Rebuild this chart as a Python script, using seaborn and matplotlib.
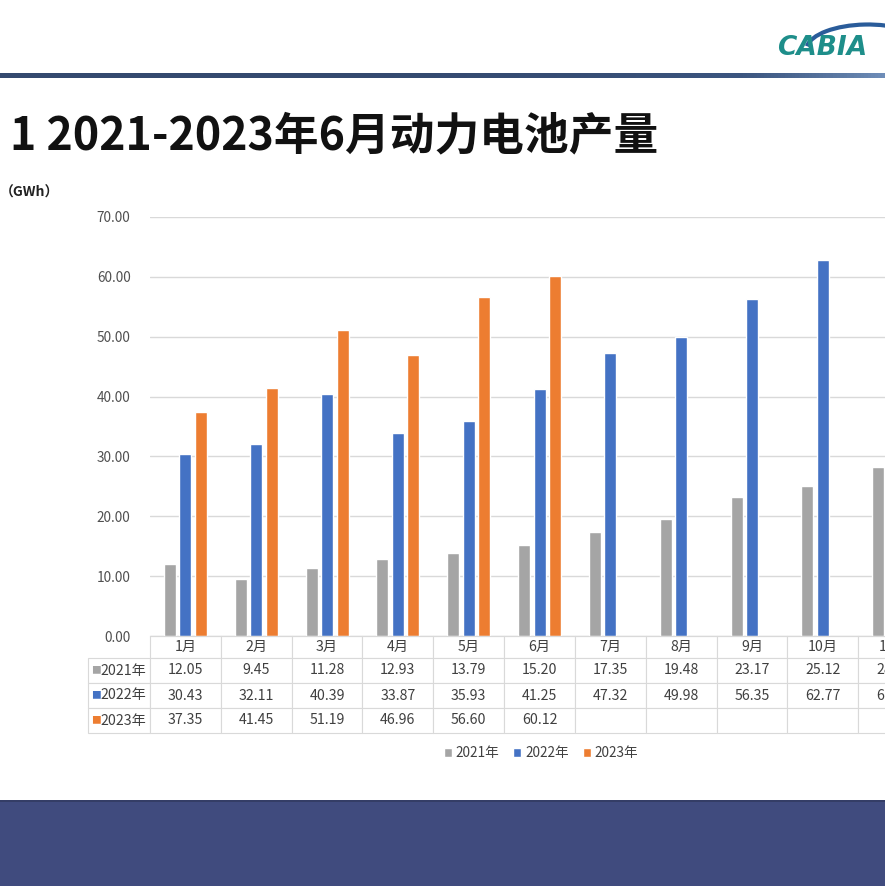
import numpy as np
import pandas as pd
import seaborn as sns
import matplotlib.pyplot as plt
from matplotlib.patches import Rectangle, Arc
from matplotlib.colors import LinearSegmentedColormap

# 数据 (GWh)
months = ['1月', '2月', '3月', '4月', '5月', '6月', '7月', '8月', '9月', '10月', '11月', '12月']
years = ['2021年', '2022年', '2023年']
prod_2021 = [12.05, 9.45, 11.28, 12.93, 13.79, 15.20, 17.35, 19.48, 23.17, 25.12, 28.18, 31.70]
prod_2022 = [30.43, 32.11, 40.39, 33.87, 35.93, 41.25, 47.32, 49.98, 56.35, 62.77, 61.43, 54.07]
prod_2023 = [37.35, 41.45, 51.19, 46.96, 56.60, 60.12, None, None, None, None, None, None]
yticks = [0, 10, 20, 30, 40, 50, 60, 70]

colors = ['#A5A5A5', '#4472C4', '#ED7D31']
font = ['Noto Sans CJK SC', 'DejaVu Sans']

sns.set_style('white')
plt.rcParams['font.family'] = font

df = pd.DataFrame({'month': months * 3,
                   'year': np.repeat(years, len(months)),
                   'value': prod_2021 + prod_2022 + prod_2023})
df['value'] = df['value'].astype(float)

W, H = 885, 886
fig = plt.figure(figsize=(W / 100, H / 100), dpi=100)
fig.patch.set_facecolor('white')

# 图表区 (右侧超出画面，模拟截图裁切)
ax = fig.add_axes([150 / W, 1 - 636 / H, 850 / W, 419 / H])
sns.barplot(data=df.dropna(), x='month', y='value', hue='year',
            order=months, hue_order=years, palette=colors,
            width=0.656, gap=0.23, saturation=1, ax=ax, legend=True)

ax.set_ylim(0, 70)
ax.set_xlim(-0.5, len(months) - 0.5)
ax.set_yticks(yticks)
ax.set_yticklabels([f'{v:.2f}' for v in yticks], fontsize=9.8, color='#505050')
ax.tick_params(axis='y', length=0, pad=14)
ax.set_xticks([])
ax.set_xlabel('')
ax.set_ylabel('')
ax.grid(axis='y', color='#D9D9D9', linewidth=1)
ax.set_axisbelow(True)
for s in ['top', 'right', 'left']:
    ax.spines[s].set_visible(False)
ax.spines['bottom'].set_color('#D9D9D9')

# 数据表
def fmt(v):
    return '' if v is None else f'{v:.2f}'

cell_text = [[''] + months]
for y, vals in zip(years, [prod_2021, prod_2022, prod_2023]):
    cell_text.append([''] + [fmt(v) for v in vals])

lw = 62 / 850
th = 97 / 419
tbl = ax.table(cellText=cell_text, cellLoc='center',
               bbox=[-lw, -th, 1 + lw, th])
tbl.auto_set_font_size(False)
for (r, c), cell in tbl.get_celld().items():
    cell.set_edgecolor('#D9D9D9')
    cell.set_linewidth(0.8)
    cell.set_width(62 if c == 0 else 70.9)
    cell.set_height(22 if r == 0 else 25)
    cell.get_text().set_fontsize(10.2)
    cell.get_text().set_color('#404040')
    if r == 0 and c == 0:
        cell.visible_edges = ''
    if c == 0 and r > 0:
        ax.annotate('■', xy=(0.05, 0.5), xycoords=cell, color=colors[r - 1],
                    fontsize=7, va='center', ha='left', annotation_clip=False)
        ax.annotate(years[r - 1], xy=(0.2, 0.5), xycoords=cell, color='#404040',
                    fontsize=10.2, va='center', ha='left', annotation_clip=False)

# 图例
handles, labels = ax.get_legend_handles_labels()
ax.legend(handles, labels, loc='center', bbox_to_anchor=(541 / W, 1 - 753 / H),
          bbox_transform=fig.transFigure, ncol=3, frameon=False,
          handlelength=0.6, handleheight=0.6, handletextpad=0.3,
          columnspacing=1.0, fontsize=9.8, labelcolor='#404040')

# 标题与单位
fig.text(10 / W, 1 - 136 / H, '1 2021-2023年6月动力电池产量', fontsize=32.2,
         fontweight='bold', va='center', ha='left', color='#111111')
fig.text(0, 1 - 193 / H, '（GWh）', fontsize=10, fontweight='bold',
         va='center', ha='left', color='#222222')

# 顶部渐变线
band = fig.add_axes([0, 1 - 78 / H, 1, 5 / H])
cmap = LinearSegmentedColormap.from_list('line', ['#34496F', '#3C5680', '#6E8DB8'])
band.imshow(np.linspace(0, 1, 256)[None, :] ** 4, aspect='auto', cmap=cmap)
band.axis('off')

# 标志
fig.text(777 / W, 1 - 48 / H, 'CABIA', fontsize=19, fontstyle='italic',
         fontweight='bold', color='#1E8E8A', va='center', ha='left',
         family=['DejaVu Sans'])
logo = fig.add_axes([790 / W, 1 - 50 / H, 130 / W, 30 / H])
logo.add_patch(Arc((0.6, 0.0), 0.95, 1.7, theta1=25, theta2=165,
                   color='#2A5C9A', lw=3))
logo.set_xlim(0, 1)
logo.set_ylim(0, 1)
logo.axis('off')

# 底部色块
fig.add_artist(Rectangle((0, 0), 1, 86 / H, transform=fig.transFigure,
                         facecolor='#404B7E', edgecolor='none'))
fig.add_artist(Rectangle((0, 84 / H), 1, 2 / H, transform=fig.transFigure,
                         facecolor='#343D66', edgecolor='none'))

fig.savefig('out.png', dpi=100)
